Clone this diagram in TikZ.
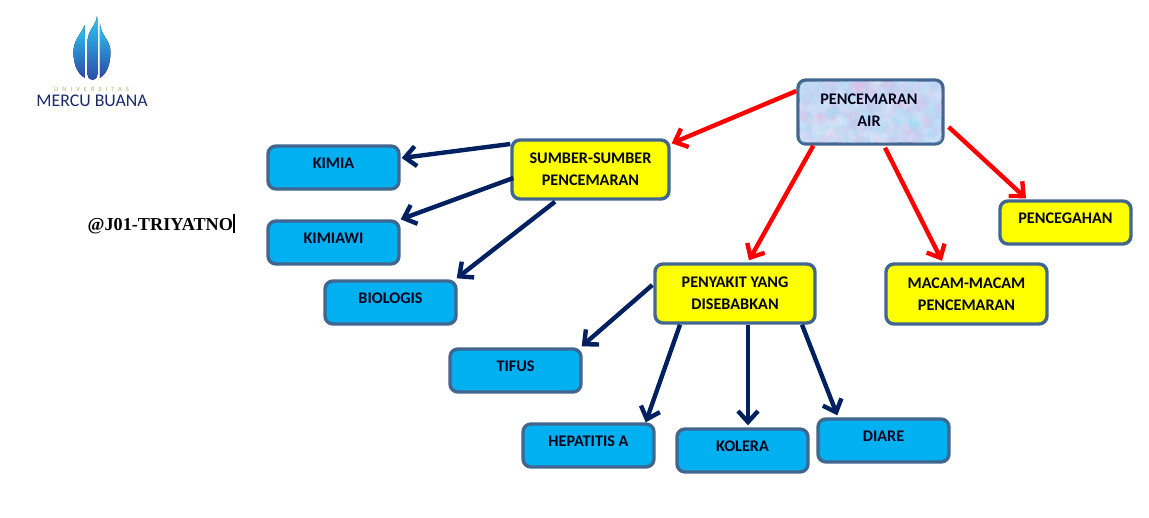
\documentclass[tikz,border=0pt]{standalone}
\usepackage{fontspec}
\setmainfont{Carlito}
\newfontfamily\serifbold{Liberation Serif}
\usetikzlibrary{arrows.meta,calc}

\definecolor{boxline}{HTML}{41668F}
\definecolor{boxblue}{HTML}{00B0F0}
\definecolor{boxyellow}{HTML}{FFFF00}
\definecolor{boxtext}{HTML}{04041C}
\definecolor{rootfill}{HTML}{C6DAF6}
\definecolor{rootpink}{HTML}{E4B0E0}
\definecolor{rootcyan}{HTML}{A0DCF6}
\definecolor{navyline}{HTML}{002060}
\definecolor{logonavy}{HTML}{1B2A6B}
\definecolor{logogreen}{HTML}{A8B860}
\definecolor{flametop}{HTML}{2CC6F6}
\definecolor{flamemid}{HTML}{1A8FD8}
\definecolor{flamelow}{HTML}{2B4AA5}

\tikzset{
  box/.style={draw=boxline, line width=3.4pt, rounded corners=8pt, align=center,
    font=\fontsize{16.2}{22}\selectfont\bfseries, text=boxtext, inner sep=0pt},
  yellowbox/.style={box, fill=boxyellow},
  bluebox/.style={box, fill=boxblue, minimum width=131pt, minimum height=43pt,
    text height=11pt, text depth=10pt},
  redarrow/.style={-{Straight Barb[length=11pt,width=20pt]}, draw=red, line width=4.4pt},
  navyarrow/.style={-{Straight Barb[length=11pt,width=20pt]}, draw=navyline, line width=4.4pt},
  flame/.style={top color=flametop, middle color=flamemid, bottom color=flamelow, draw=none},
}

\begin{document}
\begin{tikzpicture}[x=1pt,y=-1pt]
  \useasboundingbox (0,0) rectangle (1149,517);

  \fill[flame] (84.7,25) .. controls (80,36) and (73.5,40) .. (73.5,52)
    .. controls (73.5,66) and (78,74) .. (85,78) -- cycle;
  \fill[flame] (97,16) .. controls (96,26) and (87.5,30) .. (87.5,42) -- (87.5,74)
    .. controls (88,82) and (97,82) .. (97.5,74) -- (97.5,25) .. controls (97.7,22) and (97.3,19) .. (97,16) -- cycle;
  \fill[flame] (99.8,23) .. controls (101,36) and (110.5,40) .. (110.5,52)
    .. controls (110.5,66) and (106,74) .. (99.8,78) -- cycle;
  \node[font=\fontsize{6.5}{7}\addfontfeature{LetterSpace=62}, text=logogreen, inner sep=0pt] (logotop) at (91.5,89) {UNIVERSITAS};
  \node[font=\fontsize{17.8}{20}\selectfont, text=logonavy, inner sep=0pt] (logoname) at (92,100.5) {MERCU BUANA};

  \node[font=\fontsize{18.2}{20}\serifbold\bfseries, anchor=base west, inner sep=0pt] (signature) at (87.5,230)
    {@J01-TRIYATNO\rule[-3pt]{1.6pt}{19pt}};

  \node[box, minimum width=145pt, minimum height=64pt, fill=rootfill] (root) at (870.5,112) {};
  \begin{scope}
    \pgfmathsetseed{7}
    \clip[rounded corners=6pt] (799,81) rectangle (942,143);
    \foreach \i in {1,...,500} {
      \pgfmathsetmacro{\px}{799+143*rnd}
      \pgfmathsetmacro{\py}{81+62*rnd}
      \pgfmathsetmacro{\pr}{2+5*rnd}
      \pgfmathtruncatemacro{\pick}{3*rnd}
      \ifcase\pick
        \fill[rootpink, opacity=.16] (\px,\py) circle[radius=\pr];
      \or
        \fill[rootcyan, opacity=.18] (\px,\py) circle[radius=\pr];
      \else
        \fill[white, opacity=.10] (\px,\py) circle[radius=\pr];
      \fi
    }
  \end{scope}
  \node[font=\fontsize{16.2}{22}\selectfont\bfseries, align=center, text=boxtext, inner sep=0pt] (roottext) at (869,110) {PENCEMARAN\\AIR};

  \node[yellowbox, minimum width=157pt, minimum height=59pt]  (sumber)     at (590.5,169.5) {SUMBER-SUMBER\\PENCEMARAN};
  \node[yellowbox, minimum width=160pt, minimum height=59pt]  (penyakit)   at (735,293.5)   {PENYAKIT YANG\\DISEBABKAN};
  \node[yellowbox, minimum width=161pt, minimum height=60pt]  (macam)      at (966.5,294)   {MACAM-MACAM\\PENCEMARAN};
  \node[yellowbox, minimum width=131pt, minimum height=43pt, text height=11pt, text depth=10pt] (pencegahan) at (1065.5,222.5) {PENCEGAHAN};

  \node[bluebox, text depth=9pt] (kimia)    at (333.5,167.5) {KIMIA};
  \node[bluebox]                 (kimiawi)  at (333.5,242.5) {KIMIAWI};
  \node[bluebox, text depth=9pt] (biologis) at (390.5,302.5) {BIOLOGIS};
  \node[bluebox]                 (tifus)    at (515.5,370.5) {TIFUS};
  \node[bluebox]                 (hepatitis) at (588.5,445.5) {HEPATITIS A};
  \node[bluebox]                 (kolera)   at (742.5,450.5) {KOLERA};
  \node[bluebox]                 (diare)    at (883.5,440.5) {DIARE};

  \draw[redarrow] ([yshift=21pt]root.west) -- ([xshift=1pt,yshift=-5pt]sumber.north east);
  \draw[redarrow] ([xshift=17pt]root.south west) -- ([xshift=14pt,yshift=2pt]penyakit.north);
  \draw[redarrow] ([xshift=14.5pt,yshift=-2pt]root.south) -- ([xshift=-24.5pt,yshift=1.5pt]macam.north);
  \draw[redarrow] ([xshift=4pt,yshift=-15pt]root.east) -- ([xshift=-39.5pt,yshift=1pt]pencegahan.north);

  \draw[navyarrow] ([yshift=25.5pt]sumber.west) -- ([xshift=1pt,yshift=9.5pt]kimia.east);
  \draw[navyarrow] ([xshift=3pt,yshift=-8.5pt]sumber.west) -- (kimiawi.north east);
  \draw[navyarrow] ([xshift=-35.5pt,yshift=-1pt]sumber.south) -- ([xshift=-1pt,yshift=1pt]biologis.north east);

  \draw[navyarrow] ([xshift=-1pt,yshift=8.5pt]penyakit.west) -- ([xshift=-1pt,yshift=1pt]tifus.north east);
  \draw[navyarrow] ([xshift=-55pt]penyakit.south) -- ([xshift=-10pt]hepatitis.north east);
  \draw[navyarrow] ([xshift=13pt]penyakit.south) -- ([xshift=5.5pt,yshift=2pt]kolera.north);
  \draw[navyarrow] ([xshift=67pt]penyakit.south) -- ([xshift=21pt,yshift=2pt]diare.north west);
\end{tikzpicture}
\end{document}
